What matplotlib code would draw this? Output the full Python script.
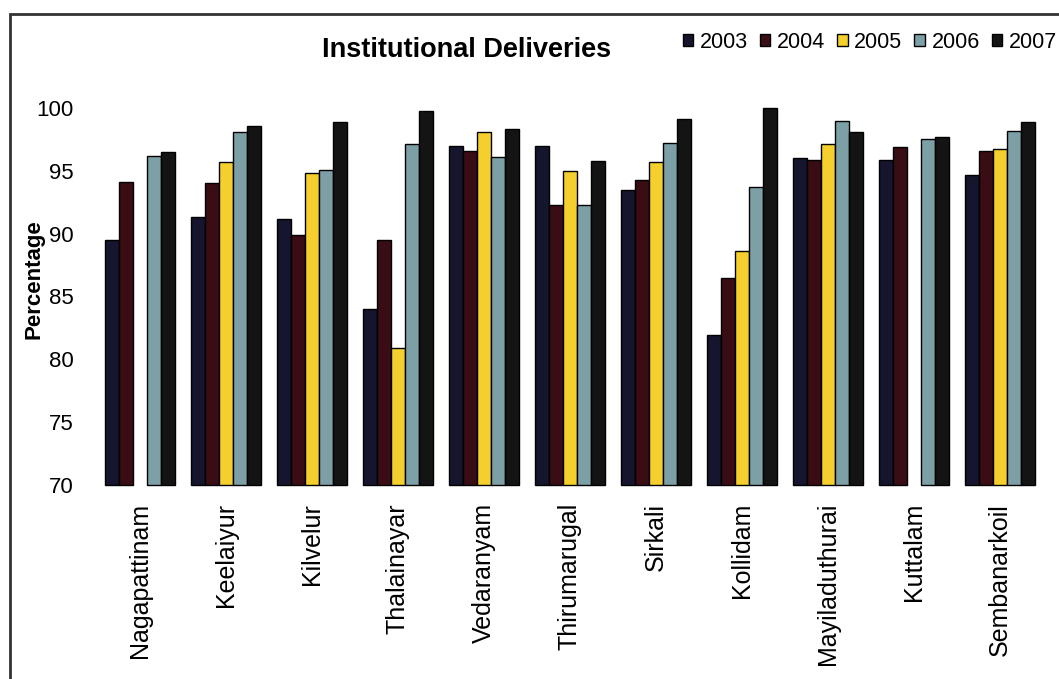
import matplotlib
matplotlib.use("Agg")
import matplotlib.pyplot as plt
import numpy as np
from matplotlib.patches import Rectangle

plt.rcParams['font.family'] = ['Liberation Sans', 'DejaVu Sans']

blocks = ["Nagapattinam", "Keelaiyur", "Kilvelur", "Thalainayar", "Vedaranyam",
          "Thirumarugal", "Sirkali", "Kollidam", "Mayiladuthurai", "Kuttalam",
          "Sembanarkoil"]
years = ["2003", "2004", "2005", "2006", "2007"]

# Institutional delivery percentages per block (NaN = no data reported)
pct_2003 = [89.5, 91.3, 91.2, 84.0, 97.0, 97.0, 93.5, 81.9, 96.0, 95.9, 94.7]
pct_2004 = [94.1, 94.0, 89.9, 89.5, 96.6, 92.3, 94.3, 86.5, 95.9, 96.9, 96.6]
pct_2005 = [np.nan, 95.7, 94.8, 80.9, 98.1, 95.0, 95.7, 88.6, 97.1, np.nan, 96.7]
pct_2006 = [96.2, 98.1, 95.1, 97.1, 96.1, 92.3, 97.2, 93.7, 99.0, 97.5, 98.2]
pct_2007 = [96.5, 98.6, 98.9, 99.8, 98.3, 95.8, 99.1, 100.0, 98.1, 97.7, 98.9]

series = [pct_2003, pct_2004, pct_2005, pct_2006, pct_2007]
colors = ["#15152e", "#3a0c14", "#f5cf2e", "#7d9fa6", "#141414"]

W, H = 1059, 679
fig = plt.figure(figsize=(W / 100, H / 100), dpi=100)
ax = fig.add_axes([97 / W, 1 - 485 / H, (1043 - 97) / W, (485 - 108) / H])

x = np.arange(len(blocks))
bw = 0.163
handles = []
for i, (vals, col) in enumerate(zip(series, colors)):
    v = np.array(vals, dtype=float)
    offs = (i - 2) * bw
    b = ax.bar(x + offs, v - 70, bottom=70, width=bw, color=col,
               edgecolor="black", linewidth=1.0, label=years[i], clip_on=False)
    handles.append(b)

ax.set_xlim(-0.5, len(blocks) - 0.5)
ax.set_ylim(70, 100)
ax.set_yticks([70, 75, 80, 85, 90, 95, 100])
ax.set_xticks(x)
ax.set_xticklabels(blocks, rotation=90, fontsize=18, va="top", ha="center")
ax.tick_params(axis="y", length=0, pad=17, labelsize=16)
ax.tick_params(axis="x", length=0, pad=13)
for s in ax.spines.values():
    s.set_visible(False)

fig.text(34 / W, 1 - 279 / H, "Percentage", rotation=90, fontsize=16,
         fontweight="bold", ha="center", va="center")
fig.text(467 / W, 1 - 50 / H, "Institutional Deliveries", fontsize=19.5,
         fontweight="bold", ha="center", va="center")

fig.legend(handles, years, loc="center right", bbox_to_anchor=(1057 / W, 1 - 42 / H),
           ncol=5, frameon=False, fontsize=15.5, handlelength=0.5, handleheight=0.5,
           handletextpad=0.3, columnspacing=0.55, borderaxespad=0, borderpad=0)

# frame around the chart
fig.patches.append(Rectangle((10 / W, -0.1), 1.2, 1.1 - 14 / H,
                             transform=fig.transFigure, fill=False,
                             edgecolor="#333333", linewidth=2))

fig.savefig("out.png", dpi=100)
